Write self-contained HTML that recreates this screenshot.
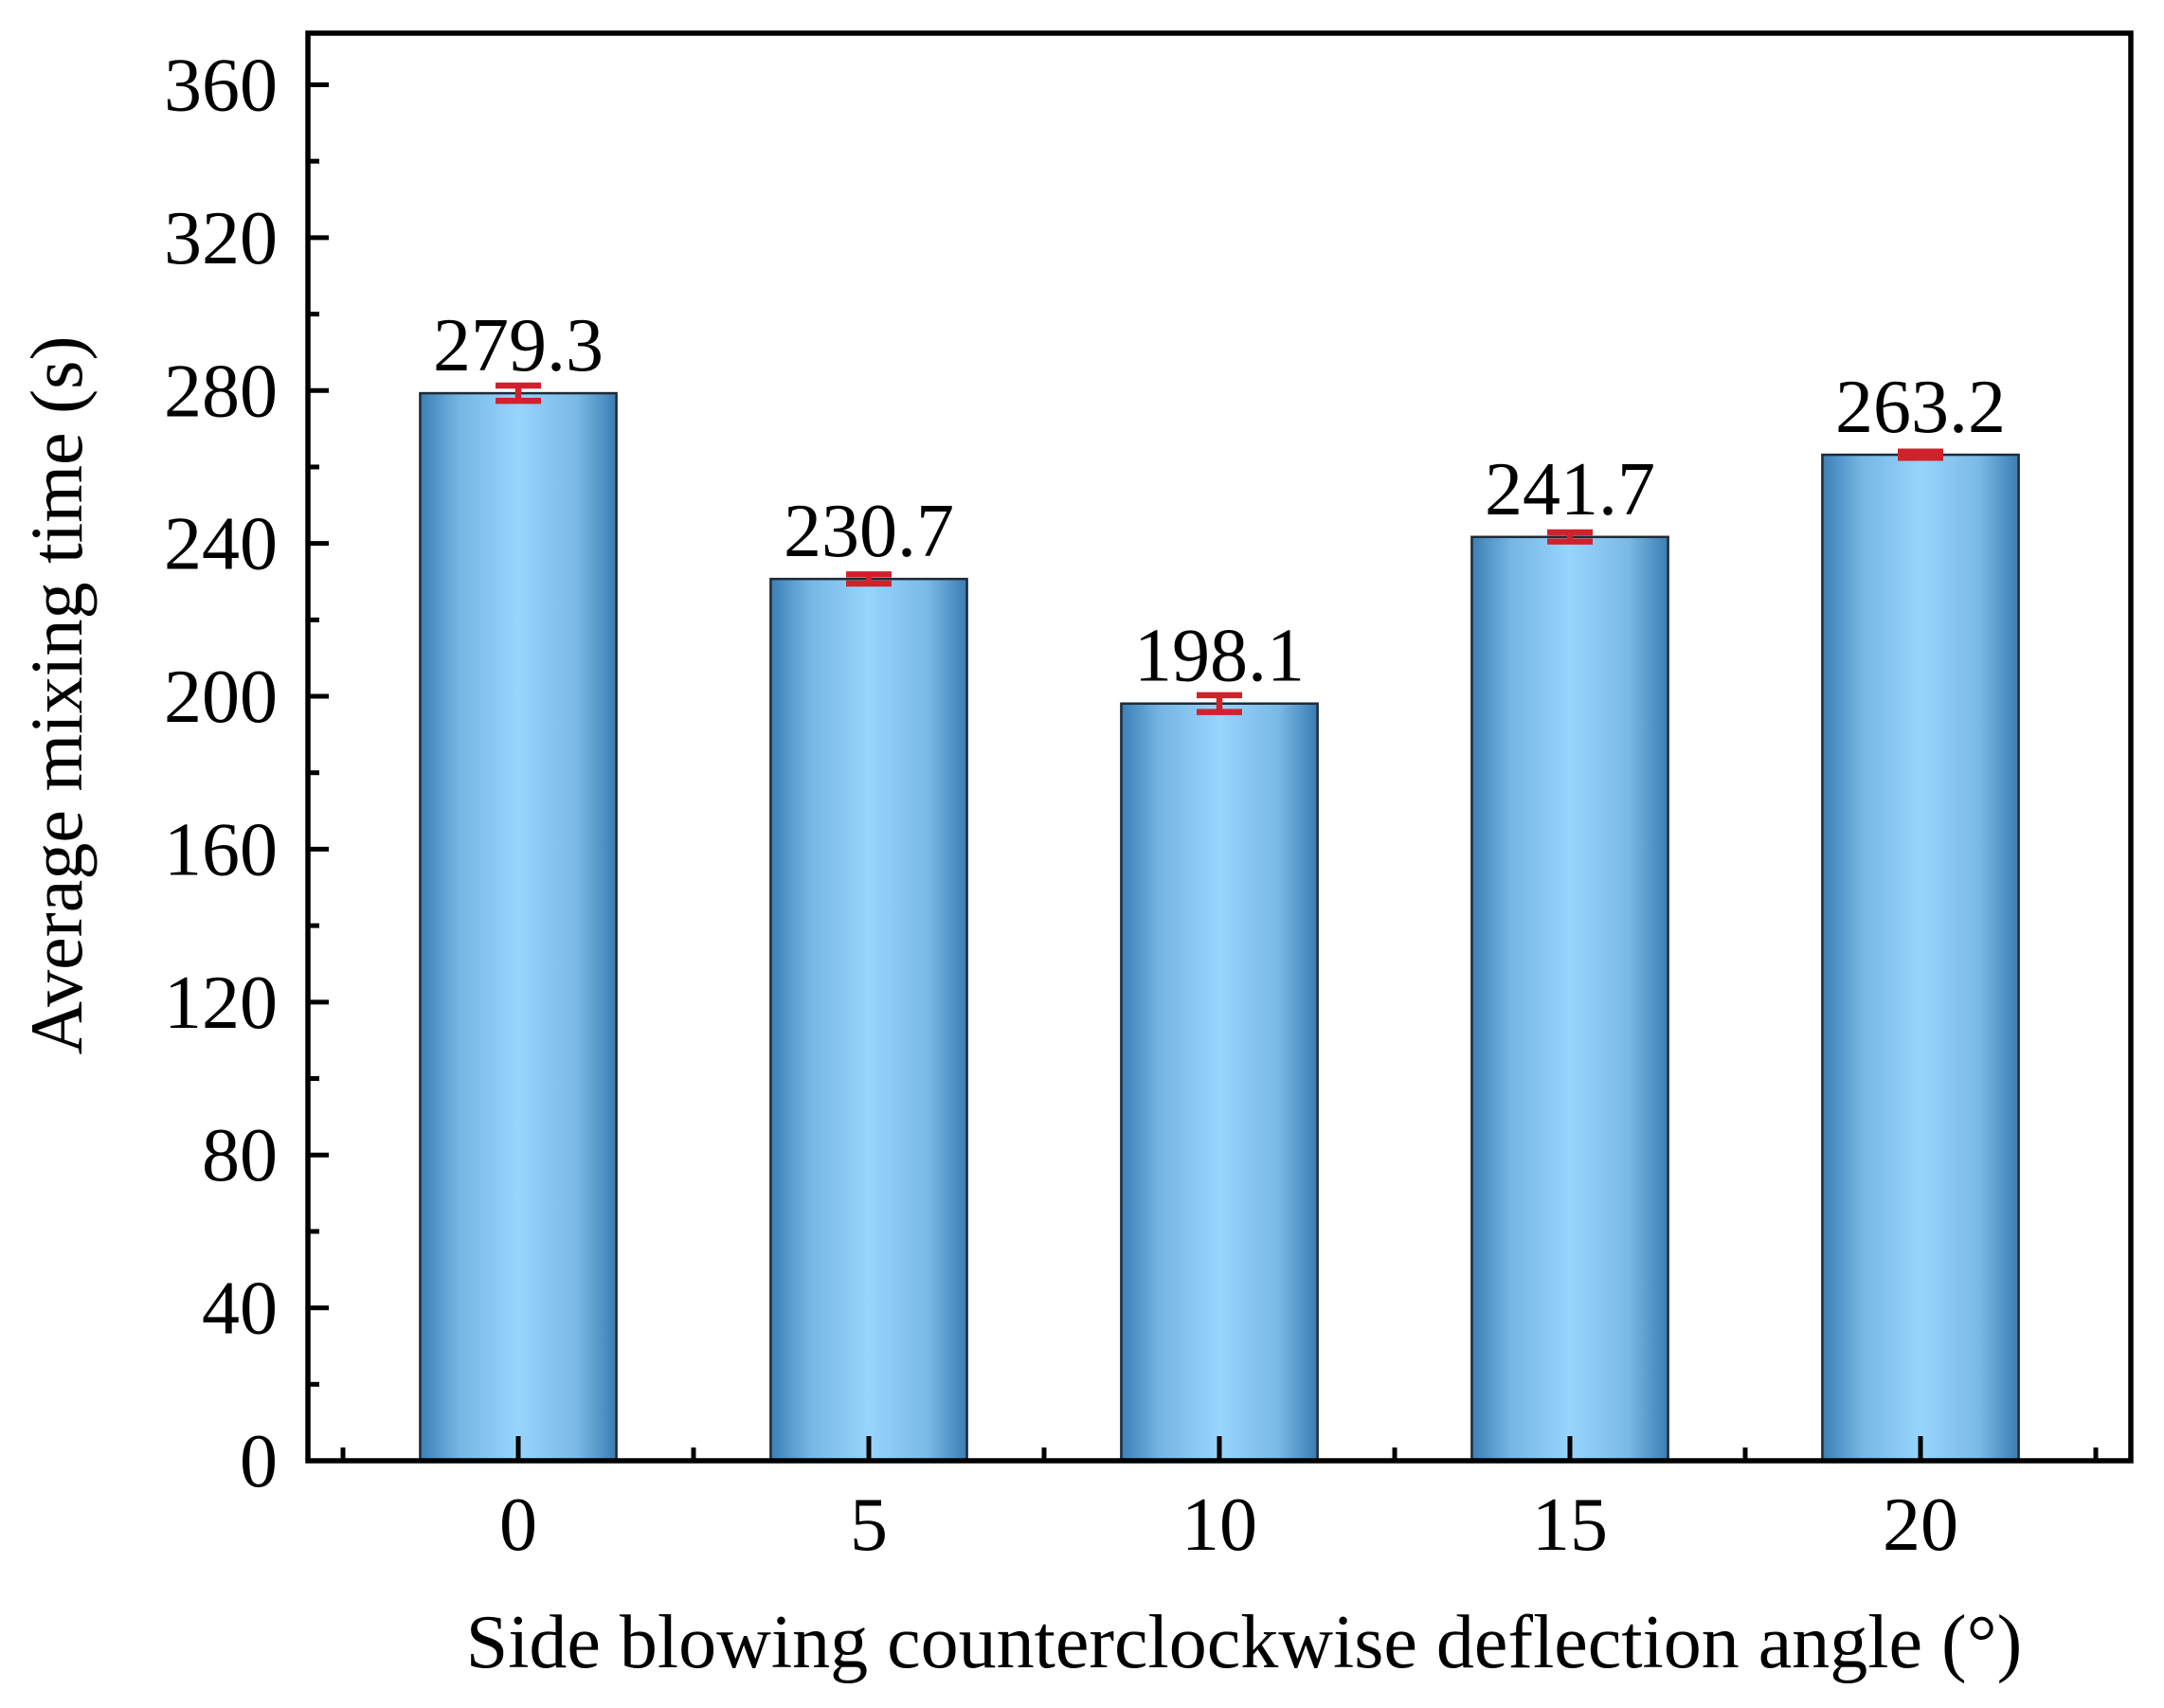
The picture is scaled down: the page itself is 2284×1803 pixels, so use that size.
<!DOCTYPE html>
<html><head><meta charset="utf-8"><style>
html,body{margin:0;padding:0;background:#fff;}
svg{display:block;font-family:"Liberation Serif","Times New Roman",serif;}
</style></head><body>
<svg id="chart" width="2284" height="1803" viewBox="0 0 2284 1803" xmlns="http://www.w3.org/2000/svg">
<defs>
<linearGradient id="barGrad" x1="0" x2="1" y1="0" y2="0">
<stop offset="0" stop-color="#3a7fb6"/>
<stop offset="0.2" stop-color="#76b6e4"/>
<stop offset="0.5" stop-color="#97d5fd"/>
<stop offset="0.8" stop-color="#7ab9e6"/>
<stop offset="1" stop-color="#3a7db4"/>
</linearGradient>
</defs>
<g id="bars"></g>
<g id="errs"></g>
<g id="vals"></g>
<g id="axes"></g>
<text x="1313" y="1760" font-size="80" text-anchor="middle">Side blowing counterclockwise deflection angle (°)</text>
<text transform="translate(86,734) rotate(-90)" font-size="78" text-anchor="middle">Average mixing time (s)</text>
</svg>
<script>
const categories = [0, 5, 10, 15, 20];
const values = [279.3, 230.7, 198.1, 241.7, 263.2];
const errors = [2, 1.2, 2.2, 1.2, 0.8];
const valueLabels = ["279.3", "230.7", "198.1", "241.7", "263.2"];
const yTicks = [0, 40, 80, 120, 160, 200, 240, 280, 320, 360];
const xTicks = [0, 5, 10, 15, 20];

const X0 = 325, X1 = 2249, Y0 = 1542, Y1 = 35;
const xMin = -3, xMax = 23, yMin = 0, yMax = 373.5;
const xs = v => X0 + (v - xMin) / (xMax - xMin) * (X1 - X0);
const ys = v => Y0 - (v - yMin) / (yMax - yMin) * (Y0 - Y1);
const NS = "http://www.w3.org/2000/svg";
function mk(parent, tag, attrs, text) {
  const e = document.createElementNS(NS, tag);
  for (const k in attrs) e.setAttribute(k, attrs[k]);
  if (text !== undefined) e.textContent = text;
  document.getElementById(parent).appendChild(e);
  return e;
}
const bw = 2.8;
categories.forEach((c, i) => {
  const l = xs(c - bw / 2), r = xs(c + bw / 2), t = ys(values[i]);
  const b = mk('bars', 'rect', {x: l, y: t, width: r - l, height: Y0 - t, fill: 'url(#barGrad)', stroke: '#1e2a36', 'stroke-width': 2.5});
  
  
  const cx = xs(c), eh = ys(values[i] + errors[i]), el = ys(values[i] - errors[i]);
  const g = mk('errs', 'path', {d: `M${cx},${eh}V${el}M${cx-24},${eh}H${cx+24}M${cx-24},${el}H${cx+24}`, stroke: '#d0222c', 'stroke-width': 6.5, fill: 'none'});
  
  
  const tl = mk('vals', 'text', {x: cx, y: t - 24, 'font-size': 80, 'text-anchor': 'middle'}, valueLabels[i]);
  
  
});
const fr = mk('axes', 'rect', {x: X0, y: Y1, width: X1 - X0, height: Y0 - Y1, fill: 'none', stroke: '#000', 'stroke-width': 5.5});


yTicks.forEach(v => {
  const y = ys(v);
  const t = mk('axes', 'line', {x1: X0, x2: X0 + 22, y1: y, y2: y, stroke: '#000', 'stroke-width': 5});
  
  
  const m = ys(v + 20);
  if (v + 20 < yMax) {
    const mt = mk('axes', 'line', {x1: X0, x2: X0 + 12, y1: m, y2: m, stroke: '#000', 'stroke-width': 5});
    
    
  }
  const lb = mk('axes', 'text', {x: X0 - 32, y: y + 27, 'font-size': 80, 'text-anchor': 'end'}, String(v));
  
  
});
xTicks.forEach(v => {
  const x = xs(v);
  const t = mk('axes', 'line', {x1: x, x2: x, y1: Y0, y2: Y0 - 26, stroke: '#000', 'stroke-width': 5});
  
  
  const lb = mk('axes', 'text', {x: x, y: 1636, 'font-size': 80, 'text-anchor': 'middle'}, String(v));
  
  
});
[-2.5, 2.5, 7.5, 12.5, 17.5, 22.5].forEach(v => {
  const x = xs(v);
  const t = mk('axes', 'line', {x1: x, x2: x, y1: Y0, y2: Y0 - 14, stroke: '#000', 'stroke-width': 5});
  
  
});
</script>
</body></html>
